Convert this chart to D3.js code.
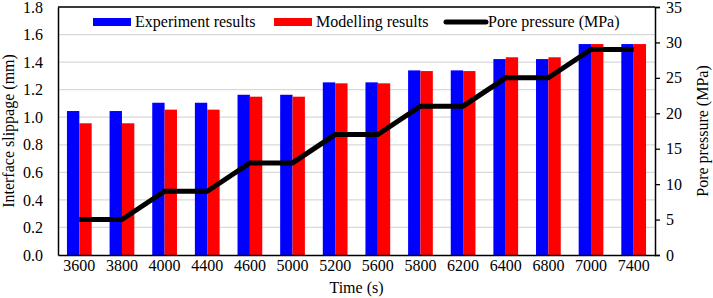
<!DOCTYPE html>
<html><head><meta charset="utf-8">
<script src="https://cdn.jsdelivr.net/npm/d3@7"></script>
<style>body{margin:0;background:#fff}svg{display:block}text{font-family:"Liberation Serif","Times New Roman",serif}</style>
</head><body><svg id="c" width="713" height="298"></svg>
<script>
const categories = ["3600","3800","4000","4400","4600","5000","5200","5600","5800","6200","6400","6800","7000","7400"];
const experiment = [1.045,1.045,1.105,1.105,1.163,1.163,1.253,1.253,1.340,1.340,1.422,1.422,1.531,1.531];
const modelling  = [0.956,0.956,1.055,1.055,1.149,1.149,1.246,1.246,1.335,1.335,1.435,1.435,1.531,1.531];
const pressure   = [5,5,9,9,13,13,17,17,21,21,25,25,29,29];
const leftTicks = [0,0.2,0.4,0.6,0.8,1.0,1.2,1.4,1.6,1.8];
const rightTicks = [0,5,10,15,20,25,30,35];
const seriesNames = ["Experiment results","Modelling results","Pore pressure (MPa)"];

const svg = d3.select("#c");
const L=58, R=655, T=7, B=255;
const x = d3.scaleBand().domain(categories).range([L,R]).paddingInner(0.42).paddingOuter(0.21);
const xs = d3.scaleBand().domain(["e","m"]).range([0,x.bandwidth()]);
const y = d3.scaleLinear().domain([0,1.8]).range([B,T]);
const y2 = d3.scaleLinear().domain([0,35]).range([B,T]);

// gridlines
svg.append("g").selectAll("line").data(leftTicks.slice(1)).join("line")
  .attr("x1",L).attr("x2",R).attr("y1",d=>y(d)).attr("y2",d=>y(d))
  .attr("stroke","#d9d9d9").attr("stroke-width",1.3);

// bars
const g = svg.append("g");
g.selectAll(".e").data(categories).join("rect")
  .attr("x",d=>x(d)+xs("e")).attr("width",xs.bandwidth())
  .attr("y",(d,i)=>y(experiment[i])).attr("height",(d,i)=>B-y(experiment[i])).attr("fill","#0000ff");
g.selectAll(".m").data(categories).join("rect")
  .attr("x",d=>x(d)+xs("m")).attr("width",xs.bandwidth())
  .attr("y",(d,i)=>y(modelling[i])).attr("height",(d,i)=>B-y(modelling[i])).attr("fill","#ff0000");

// line
const line = d3.line().x((d,i)=>x(categories[i])+x.bandwidth()/2).y(d=>y2(d));
svg.append("path").datum(pressure).attr("d",line).attr("fill","none")
  .attr("stroke","#000").attr("stroke-width",5).attr("stroke-linejoin","miter");

// axes
const fs = 16;
const ax = svg.append("g").attr("transform",`translate(0,${B})`).call(d3.axisBottom(x).tickSize(0).tickPadding(5));
ax.select(".domain").attr("stroke","#000").attr("stroke-width",1.5);
const ay = svg.append("g").attr("transform",`translate(${L},0)`).call(d3.axisLeft(y).tickValues(leftTicks).tickFormat(d3.format(".1f")).tickSize(0).tickPadding(15));
ay.select(".domain").attr("stroke","#000").attr("stroke-width",1.5);
const ay2 = svg.append("g").attr("transform",`translate(${R},0)`).call(d3.axisRight(y2).tickValues(rightTicks).tickSize(5).tickPadding(6));
ay2.select(".domain").attr("stroke","#000").attr("stroke-width",1.5);
ay2.selectAll(".tick line").attr("stroke","#000").attr("stroke-width",1.3);
svg.selectAll(".tick text").attr("font-family","Liberation Serif").attr("font-size",fs).attr("fill","#000");
svg.append("line").attr("x1",L).attr("x2",R).attr("y1",T).attr("y2",T).attr("stroke","#000").attr("stroke-width",1.5);

// titles
svg.append("text").attr("x",(L+R)/2).attr("y",293).attr("text-anchor","middle").attr("font-size",fs).text("Time (s)");
svg.append("text").attr("transform",`translate(14,${(T+B)/2}) rotate(-90)`).attr("text-anchor","middle").attr("font-size",fs).text("Interface slippage (mm)");
svg.append("text").attr("transform",`translate(704,${(T+B)/2}) rotate(-90)`).attr("text-anchor","middle").attr("dominant-baseline","middle").attr("font-size",fs).text("Pore pressure (MPa)");

// legend
const lg = svg.append("g");
const items = [
  {x:93, type:"rect", color:"#0000ff", name:seriesNames[0]},
  {x:274, type:"rect", color:"#ff0000", name:seriesNames[1]},
  {x:446, type:"line", color:"#000", name:seriesNames[2]}
];
const ly = 22;
items.forEach(it=>{
  if(it.type==="rect") lg.append("rect").attr("x",it.x).attr("y",ly-4).attr("width",38).attr("height",8).attr("fill",it.color);
  else lg.append("line").attr("x1",it.x).attr("x2",it.x+40).attr("y1",ly).attr("y2",ly).attr("stroke",it.color).attr("stroke-width",5).attr("stroke-linecap","round");
  lg.append("text").attr("x",it.x+42).attr("y",ly+5).attr("font-size",fs).text(it.name);
});
</script></body></html>
